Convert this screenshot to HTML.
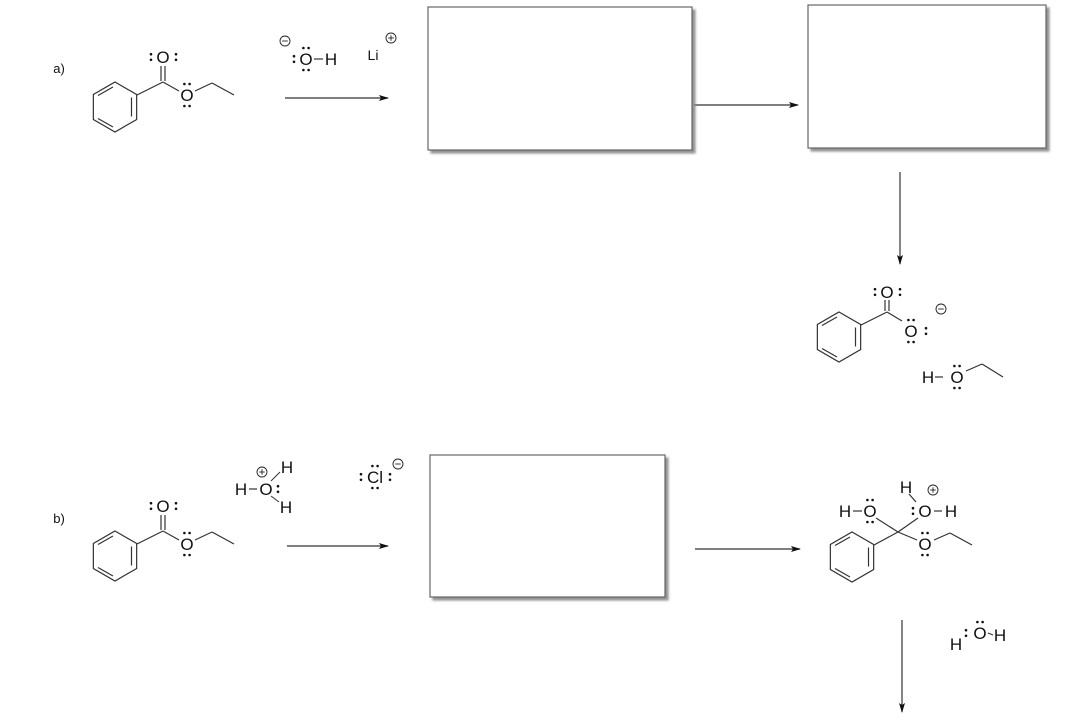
<!DOCTYPE html>
<html><head><meta charset="utf-8"><style>
html,body{margin:0;padding:0;background:#fff;width:1066px;height:727px;overflow:hidden}
text{font-family:"Liberation Sans",sans-serif;fill:#111;font-size:17px;text-anchor:middle}
</style></head><body>
<svg width="1066" height="727" viewBox="0 0 1066 727" xmlns="http://www.w3.org/2000/svg">
<defs>
<g id="benz" stroke="#333" stroke-width="1.2" fill="none">
<polygon points="0,-25 21.65,-12.5 21.65,12.5 0,25 -21.65,12.5 -21.65,-12.5"/>
<line x1="16.5" y1="-9.5" x2="16.5" y2="9.5"/>
<line x1="-2" y1="-20" x2="-17" y2="-11.5"/>
<line x1="-2" y1="20" x2="-17" y2="11.5"/>
</g>
<g id="dh" fill="#111"><circle cx="-2.6" cy="0" r="1.3"/><circle cx="2.6" cy="0" r="1.3"/></g>
<g id="dv" fill="#111"><circle cx="0" cy="-2.8" r="1.3"/><circle cx="0" cy="2.8" r="1.3"/></g>
<g id="neg" fill="none" stroke="#222" stroke-width="0.9"><circle r="5"/><line x1="-2.8" y1="0" x2="2.8" y2="0"/></g>
<g id="pos" fill="none" stroke="#222" stroke-width="0.9"><circle r="5"/><line x1="-2.8" y1="0" x2="2.8" y2="0"/><line x1="0" y1="-2.8" x2="0" y2="2.8"/></g>
<marker id="ah" markerWidth="10" markerHeight="8" refX="9" refY="4" orient="auto" markerUnits="userSpaceOnUse"><path d="M0,1 L10,4 L0,7 L2,4 Z" fill="#111"/></marker>
<filter id="sh" x="-5%" y="-5%" width="110%" height="110%"><feDropShadow dx="3" dy="3" stdDeviation="1" flood-color="#888" flood-opacity="0.9"/></filter>
</defs>

<text x="59" y="73" style="font-size:13px">a)</text>
<text x="59" y="523" style="font-size:13px">b)</text>

<!-- ester a -->
<use href="#benz" x="115" y="107"/>
<g stroke="#333" stroke-width="1.2" fill="none">
<line x1="137" y1="95" x2="163" y2="82"/>
<line x1="161" y1="81" x2="161" y2="66"/><line x1="165" y1="81" x2="165" y2="66"/>
<line x1="163" y1="82" x2="179" y2="91"/>
<line x1="195" y1="91" x2="212" y2="83"/><line x1="212" y1="83" x2="234" y2="95"/>
</g>
<text x="163" y="63">O</text>
<use href="#dv" x="151" y="57"/><use href="#dv" x="176" y="57"/>
<text x="187" y="101">O</text>
<use href="#dh" x="187" y="84"/><use href="#dh" x="187" y="106"/>

<!-- reagents a -->
<use href="#neg" x="285" y="41"/>
<use href="#dv" x="294" y="59"/>
<text x="306" y="65">O</text>
<use href="#dh" x="306" y="48"/><use href="#dh" x="306" y="70"/>
<line x1="314" y1="59" x2="323" y2="59" stroke="#333" stroke-width="1.2"/>
<text x="331" y="65">H</text>
<text x="373" y="60" style="font-size:14px">Li</text>
<use href="#pos" x="391" y="38"/>

<g stroke="#333" stroke-width="1.2" marker-end="url(#ah)">
<line x1="285" y1="98" x2="388" y2="98"/>
<line x1="694" y1="105" x2="798" y2="105"/>
<line x1="900" y1="172" x2="900" y2="264"/>
<line x1="287" y1="546" x2="388" y2="546"/>
<line x1="695" y1="549" x2="800" y2="549"/>
<line x1="902" y1="620" x2="902" y2="712"/>
</g>

<g fill="#fff" stroke="#666" stroke-width="1.2" filter="url(#sh)">
<rect x="428" y="7" width="264" height="143"/>
<rect x="808" y="5" width="238" height="143"/>
<rect x="430" y="455" width="235" height="142"/>
</g>

<!-- product a -->
<use href="#benz" x="839" y="337"/>
<g stroke="#333" stroke-width="1.2">
<line x1="861" y1="325" x2="887" y2="312"/>
<line x1="885" y1="311" x2="885" y2="300"/><line x1="889" y1="311" x2="889" y2="300"/>
<line x1="887" y1="312" x2="902" y2="321"/>
<line x1="935" y1="377" x2="943" y2="377"/>
<line x1="966" y1="371" x2="982" y2="364"/><line x1="982" y1="364" x2="1003" y2="377"/>
</g>
<text x="887" y="298">O</text>
<use href="#dv" x="875" y="292"/><use href="#dv" x="900" y="292"/>
<text x="911" y="337">O</text>
<use href="#dh" x="911" y="320"/><use href="#dh" x="911" y="342"/>
<use href="#dv" x="926" y="331"/>
<use href="#neg" x="941" y="309"/>
<text x="928" y="383">H</text>
<text x="957" y="383">O</text>
<use href="#dh" x="957" y="366"/><use href="#dh" x="957" y="388"/>

<!-- ester b -->
<use href="#benz" x="115" y="556"/>
<g stroke="#333" stroke-width="1.2">
<line x1="137" y1="544" x2="163" y2="531"/>
<line x1="161" y1="530" x2="161" y2="515"/><line x1="165" y1="530" x2="165" y2="515"/>
<line x1="163" y1="531" x2="179" y2="540"/>
<line x1="195" y1="540" x2="212" y2="532"/><line x1="212" y1="532" x2="234" y2="544"/>
</g>
<text x="163" y="512">O</text>
<use href="#dv" x="151" y="506"/><use href="#dv" x="176" y="506"/>
<text x="187" y="550">O</text>
<use href="#dh" x="187" y="533"/><use href="#dh" x="187" y="555"/>

<!-- hydronium + chloride -->
<text x="241" y="495">H</text>
<line x1="249" y1="489" x2="257" y2="489" stroke="#333" stroke-width="1.2"/>
<text x="266" y="495">O</text>
<use href="#dv" x="278" y="489"/>
<use href="#pos" x="262" y="472"/>
<text x="287" y="473">H</text>
<text x="286" y="513">H</text>
<line x1="271" y1="481" x2="280" y2="472" stroke="#333" stroke-width="1"/>
<line x1="271" y1="496" x2="279" y2="502" stroke="#333" stroke-width="1"/>
<use href="#dv" x="361" y="477"/>
<text x="375" y="483">Cl</text>
<use href="#dh" x="375" y="466"/><use href="#dh" x="375" y="488"/>
<use href="#dv" x="390" y="477"/>
<use href="#pos" x="-1000" y="0"/>
<use href="#neg" x="398" y="464"/>

<!-- tetrahedral intermediate -->
<use href="#benz" x="852" y="557"/>
<g stroke="#333" stroke-width="1.2">
<line x1="874" y1="545" x2="898" y2="532"/>
<line x1="898" y1="532" x2="876" y2="518"/>
<line x1="898" y1="532" x2="918" y2="518"/>
<line x1="898" y1="532" x2="917" y2="540"/>
<line x1="934" y1="540" x2="950" y2="533"/><line x1="950" y1="533" x2="972" y2="545"/>
<line x1="853" y1="511" x2="862" y2="511"/>
<line x1="934" y1="511" x2="942" y2="511"/>
<line x1="909" y1="494" x2="916" y2="502"/>
</g>
<text x="845" y="517">H</text>
<text x="870" y="517">O</text>
<use href="#dh" x="870" y="500"/><use href="#dh" x="870" y="522"/>
<use href="#dv" x="913" y="511"/>
<text x="925" y="517">O</text>
<text x="951" y="517">H</text>
<text x="906" y="493">H</text>
<use href="#pos" x="933" y="490"/>
<text x="925" y="550">O</text>
<use href="#dh" x="925" y="533"/><use href="#dh" x="925" y="555"/>

<!-- water -->
<use href="#dv" x="966" y="633"/>
<text x="980" y="639">O</text>
<use href="#dh" x="980" y="622"/>
<line x1="988" y1="633" x2="993" y2="635" stroke="#333" stroke-width="1"/>
<text x="1000" y="641">H</text>
<text x="956" y="650">H</text>
</svg>
</body></html>
